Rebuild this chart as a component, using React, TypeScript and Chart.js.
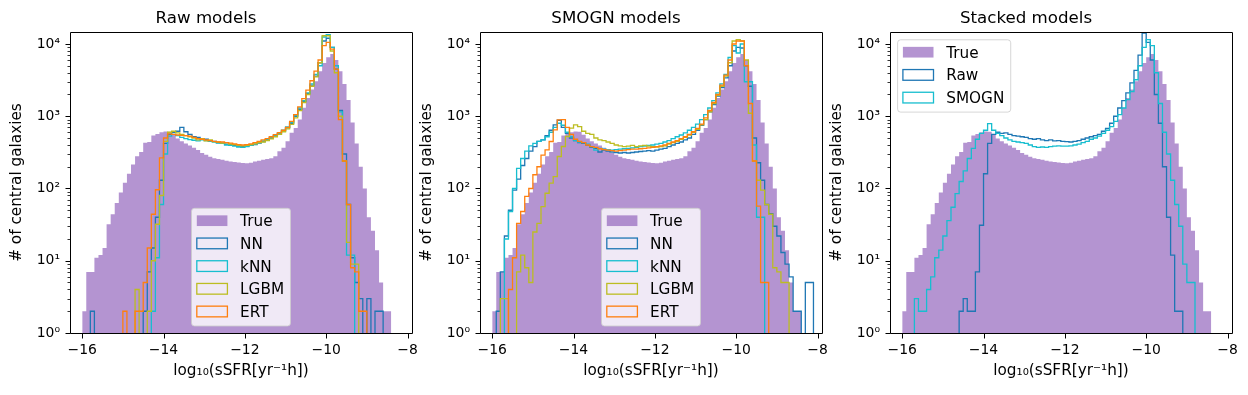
import React, { useEffect, useRef } from 'react';
import { Chart, registerables } from 'chart.js';

Chart.register(...registerables);

// ---------- data ----------
const BIN_START = -16.0;
const BIN_WIDTH = 0.1;
const N_EDGES = 81;

const X_TICKS = [-16, -14, -12, -10, -8];
const Y_TICKS = [1, 10, 100, 1000, 10000];
const Y_TICK_LABELS = ['10⁰', '10¹', '10²', '10³', '10⁴'];
const X_MIN = -16.3;
const X_MAX = -7.89;
const Y_MIN = 1;
const Y_MAX = 14650;

const TRUE_COUNTS = [3, 2, 7, 7, 11, 12, 15, 32, 44, 63, 88, 120, 160, 215, 280, 320, 428, 440, 540, 570, 600, 615, 610, 553, 490, 450, 420, 393, 365, 342, 310, 292, 275, 263, 255, 249, 242, 236, 232, 229, 226, 224, 228, 236, 242, 249, 255, 262, 280, 328, 366, 452, 589, 690, 900, 1306, 1795, 2340, 3050, 4200, 5470, 6550, 7290, 6000, 4200, 2800, 1680, 820, 420, 200, 100, 40, 26, 14, 5, 2];

const RAW_NN = [0, 0, 0, 2, 0, 0, 0, 0, 0, 0, 0, 0, 0, 0, 0, 0, 2, 7, 15, 40, 130, 420, 560, 600, 620, 700, 610, 560, 520, 510, 490, 480, 460, 450, 430, 420, 410, 405, 395, 385, 380, 385, 395, 405, 425, 445, 465, 495, 530, 570, 620, 690, 800, 1000, 1250, 1600, 2050, 2700, 3600, 5500, 11000, 12000, 9000, 4500, 1200, 300, 60, 11, 5, 3, 0, 3, 0, 2];
const RAW_KNN = [0, 0, 0, 0, 0, 0, 0, 0, 0, 0, 0, 0, 0, 0, 0, 0, 0, 0, 2, 11, 60, 300, 530, 560, 540, 510, 490, 475, 465, 455, 470, 460, 450, 440, 425, 420, 400, 395, 385, 375, 370, 380, 395, 410, 430, 455, 475, 505, 545, 585, 640, 710, 820, 1020, 1300, 1650, 2100, 2800, 3800, 5000, 12500, 13500, 9000, 5000, 1150, 240, 12];
const RAW_LGBM = [0, 0, 0, 0, 0, 0, 0, 0, 0, 0, 0, 0, 0, 0, 4, 0, 0, 2, 10, 32, 80, 450, 600, 620, 590, 560, 540, 520, 500, 470, 490, 455, 470, 445, 440, 425, 430, 410, 405, 395, 390, 395, 405, 415, 430, 440, 460, 485, 520, 560, 610, 670, 770, 950, 1200, 1550, 2000, 2600, 3500, 5500, 13000, 13000, 8000, 4000, 1000, 240, 18, 9];
const RAW_ERT = [0, 0, 0, 0, 0, 0, 0, 0, 0, 0, 0, 2, 0, 0, 2, 2, 5, 15, 44, 96, 265, 500, 570, 560, 550, 545, 540, 530, 510, 490, 480, 470, 460, 450, 440, 440, 430, 425, 415, 405, 400, 405, 415, 430, 450, 470, 490, 520, 555, 595, 640, 700, 850, 1050, 1350, 1750, 2300, 3100, 4200, 6000, 9500, 10500, 8500, 4500, 900, 240, 60, 8, 7, 2];

const SMOGN_NN = [0, 0, 2, 7, 22, 50, 95, 135, 208, 260, 330, 380, 450, 470, 540, 640, 760, 880, 700, 580, 500, 460, 430, 420, 400, 370, 360, 320, 340, 330, 320, 315, 310, 315, 310, 315, 320, 325, 330, 335, 330, 340, 350, 360, 380, 400, 420, 440, 470, 500, 560, 640, 750, 900, 1150, 1450, 1900, 2500, 3400, 5000, 8000, 9000, 8800, 5000, 2600, 500, 227, 130, 60, 45, 30, 22, 13, 9, 6, 2, 2, 0, 5];
const SMOGN_KNN = [0, 0, 0, 0, 20, 48, 100, 190, 260, 330, 390, 420, 450, 470, 520, 600, 700, 800, 750, 600, 520, 460, 440, 430, 410, 380, 340, 360, 350, 345, 340, 345, 350, 355, 360, 365, 370, 380, 385, 395, 400, 410, 420, 440, 460, 490, 520, 550, 590, 640, 700, 780, 900, 1050, 1300, 1650, 2100, 2800, 3800, 6500, 9500, 7500, 10000, 3000, 3000, 400, 40];
const SMOGN_LGBM = [0, 0, 0, 3, 3, 0, 0, 7, 12, 8, 5, 25, 33, 56, 86, 119, 146, 277, 381, 524, 683, 760, 720, 620, 580, 560, 500, 470, 460, 440, 420, 400, 390, 380, 385, 395, 380, 390, 395, 385, 380, 375, 380, 390, 410, 430, 450, 480, 510, 550, 600, 660, 760, 900, 1150, 1500, 1950, 2600, 3600, 5500, 11000, 11500, 11000, 6000, 1100, 240, 130, 95, 60, 44, 8, 7, 5];
const SMOGN_ERT = [0, 0, 0, 0, 0, 4, 11, 33, 48, 78, 100, 155, 200, 290, 343, 447, 646, 890, 900, 700, 560, 480, 450, 430, 400, 380, 370, 355, 345, 340, 335, 330, 335, 340, 345, 350, 350, 355, 360, 365, 370, 380, 390, 400, 420, 440, 460, 490, 520, 560, 610, 680, 780, 950, 1200, 1550, 2000, 2700, 3700, 6000, 10000, 11000, 11000, 5000, 1500, 240, 57, 5];

const STACK_RAW = [0, 0, 0, 0, 0, 0, 0, 0, 0, 0, 0, 0, 0, 0, 0, 2, 3, 2, 2, 7, 31, 160, 420, 560, 600, 580, 590, 560, 540, 530, 520, 510, 490, 480, 490, 470, 460, 470, 455, 460, 450, 445, 440, 450, 460, 480, 500, 520, 540, 560, 620, 680, 800, 1000, 1300, 1650, 2100, 2900, 4300, 7000, 14200, 10500, 6000, 2000, 800, 200, 40, 12, 2];
const STACK_SMOGN = [0, 0, 0, 0, 3, 2, 2, 4, 6, 11, 14, 22, 36, 55, 85, 125, 175, 260, 360, 480, 580, 640, 790, 640, 580, 540, 500, 470, 450, 440, 430, 420, 400, 380, 370, 375, 370, 380, 385, 390, 385, 385, 390, 400, 410, 430, 450, 480, 500, 530, 580, 640, 720, 850, 1050, 1300, 1700, 2200, 3200, 5000, 9000, 11500, 9500, 4000, 1500, 600, 300, 130, 60, 30, 9, 5];

const PANEL_TITLES = ['Raw models', 'SMOGN models', 'Stacked models'];
const LEGEND_LOCS = ['lower center', 'lower center', 'upper left'];

const C_TRUE = 'rgba(148,103,189,0.7)';
const C_NN = '#1f77b4';
const C_KNN = '#17becf';
const C_LGBM = '#bcbd22';
const C_ERT = '#ff7f0e';

const PANEL_SERIES = [
  [
    { label: 'NN', counts: RAW_NN, color: C_NN },
    { label: 'kNN', counts: RAW_KNN, color: C_KNN },
    { label: 'LGBM', counts: RAW_LGBM, color: C_LGBM },
    { label: 'ERT', counts: RAW_ERT, color: C_ERT },
  ],
  [
    { label: 'NN', counts: SMOGN_NN, color: C_NN },
    { label: 'kNN', counts: SMOGN_KNN, color: C_KNN },
    { label: 'LGBM', counts: SMOGN_LGBM, color: C_LGBM },
    { label: 'ERT', counts: SMOGN_ERT, color: C_ERT },
  ],
  [
    { label: 'Raw', counts: STACK_RAW, color: C_NN },
    { label: 'SMOGN', counts: STACK_SMOGN, color: C_KNN },
  ],
];

// ---------- layout ----------
const FONT_FAMILY = "'DejaVu Sans', sans-serif";
const CANVAS_W = 434;
const CANVAS_H = 395;
const PANEL_STEP = 410;
const AREA_RIGHT = 412;
const FLOOR = 0.1;

const EDGES = Array.from({ length: N_EDGES }, (_, i) => Math.round((BIN_START + i * BIN_WIDTH) * 100) / 100);

function stepPoints(counts: number[]) {
  const pts: { x: number; y: number }[] = [{ x: EDGES[0], y: FLOOR }];
  counts.forEach((c, i) => pts.push({ x: EDGES[i], y: c > 0 ? c : FLOOR }));
  const last = counts[counts.length - 1];
  pts.push({ x: EDGES[counts.length], y: last > 0 ? last : FLOOR });
  pts.push({ x: EDGES[counts.length], y: FLOOR });
  return pts;
}

function fillPoints(counts: number[]) {
  const pts: { x: number; y: number }[] = [];
  counts.forEach((c, i) => pts.push({ x: EDGES[i], y: c > 0 ? c : FLOOR }));
  pts.push({ x: EDGES[counts.length], y: counts[counts.length - 1] });
  return pts;
}

const LEG_FONT = 15.28;

function drawLegend(ctx: CanvasRenderingContext2D, area: any, loc: string, items: any[]) {
  ctx.save();
  ctx.font = `${LEG_FONT}px ${FONT_FAMILY}`;
  const maxW = Math.max(...items.map((it) => ctx.measureText(it.label).width));
  const w = 6.1 + 30.6 + 12.2 + maxW + 6.1;
  const n = items.length;
  const h = 12.3 + (n - 1) * 22.7 + 14.6;
  let x0: number, y0: number;
  if (loc === 'upper left') {
    x0 = area.left + 7.6;
    y0 = area.top + 7.8;
  } else {
    x0 = (area.left + area.right) / 2 - w / 2;
    y0 = area.bottom - 7.0 - h;
  }
  const r = 3;
  ctx.beginPath();
  ctx.moveTo(x0 + r, y0);
  ctx.lineTo(x0 + w - r, y0);
  ctx.arcTo(x0 + w, y0, x0 + w, y0 + r, r);
  ctx.lineTo(x0 + w, y0 + h - r);
  ctx.arcTo(x0 + w, y0 + h, x0 + w - r, y0 + h, r);
  ctx.lineTo(x0 + r, y0 + h);
  ctx.arcTo(x0, y0 + h, x0, y0 + h - r, r);
  ctx.lineTo(x0, y0 + r);
  ctx.arcTo(x0, y0, x0 + r, y0, r);
  ctx.closePath();
  ctx.fillStyle = 'rgba(255,255,255,0.8)';
  ctx.fill();
  ctx.strokeStyle = 'rgba(204,204,204,0.8)';
  ctx.lineWidth = 1;
  ctx.stroke();

  items.forEach((it, k) => {
    const cy = y0 + 12.4 + k * 22.7;
    const hx = x0 + 5.3;
    const hy = cy - 5.35;
    if (it.fill) {
      ctx.fillStyle = it.color;
      ctx.fillRect(hx, hy, 30.6, 10.7);
    } else {
      ctx.strokeStyle = it.color;
      ctx.lineWidth = 1.3;
      ctx.strokeRect(hx, hy, 30.6, 10.7);
    }
    ctx.fillStyle = '#000';
    ctx.textAlign = 'left';
    ctx.textBaseline = 'alphabetic';
    ctx.fillText(it.label, x0 + 48.6, cy + 5.4);
  });
  ctx.restore();
}

const decorPlugin = {
  id: 'decor',
  afterDatasetsDraw(chart: any, _args: any, opts: any) {
    const { ctx, chartArea, scales } = chart;
    const xs = scales.x;
    const ys = scales.y;
    const L = Math.round(chartArea.left) + 0.5;
    const R = Math.round(chartArea.right) + 0.5;
    const T = Math.round(chartArea.top) + 0.5;
    const B = Math.round(chartArea.bottom) + 0.5;
    ctx.save();
    ctx.strokeStyle = '#000';
    ctx.lineWidth = 1;
    ctx.beginPath();
    ctx.rect(L, T, R - L, B - T);
    ctx.stroke();
    ctx.beginPath();
    X_TICKS.forEach((v) => {
      const px = Math.round(xs.getPixelForValue(v)) + 0.5;
      ctx.moveTo(px, B);
      ctx.lineTo(px, B + 5);
    });
    Y_TICKS.forEach((v) => {
      const py = Math.round(ys.getPixelForValue(v)) + 0.5;
      ctx.moveTo(L - 5, py);
      ctx.lineTo(L, py);
    });
    ctx.stroke();
    ctx.beginPath();
    ctx.lineWidth = 0.8;
    Y_TICKS.forEach((d) => {
      for (let m = 2; m <= 9; m++) {
        const v = m * d;
        if (v > Y_MAX) continue;
        const py = Math.round(ys.getPixelForValue(v)) + 0.5;
        ctx.moveTo(L - 3, py);
        ctx.lineTo(L, py);
      }
    });
    ctx.stroke();
    ctx.restore();
    drawLegend(ctx, chartArea, opts.loc, opts.items);
  },
};

function buildConfig(k: number): any {
  const series = PANEL_SERIES[k];
  const datasets: any[] = [
    {
      label: 'True',
      data: fillPoints(TRUE_COUNTS),
      stepped: 'after',
      fill: 'start',
      backgroundColor: C_TRUE,
      borderColor: 'rgba(0,0,0,0)',
      borderWidth: 0,
      pointRadius: 0,
      order: 20,
    },
    ...series.map((s, i) => ({
      label: s.label,
      data: stepPoints(s.counts),
      stepped: 'after',
      fill: false,
      borderColor: s.color,
      borderWidth: 1.3,
      pointRadius: 0,
      order: 10 - i,
    })),
  ];
  const legendItems = [
    { label: 'True', color: C_TRUE, fill: true },
    ...series.map((s) => ({ label: s.label, color: s.color, fill: false })),
  ];
  return {
    type: 'line',
    data: { datasets },
    options: {
      animation: false,
      responsive: false,
      events: [],
      layout: { padding: { left: 0, right: CANVAS_W - AREA_RIGHT, top: 0, bottom: 0 } },
      plugins: {
        legend: { display: false },
        tooltip: { enabled: false },
        title: {
          display: true,
          text: PANEL_TITLES[k],
          color: '#000',
          font: { family: FONT_FAMILY, size: 16.67, weight: 'normal' },
          padding: { top: 8.7, bottom: 3.3 },
        },
        decor: { loc: LEGEND_LOCS[k], items: legendItems },
      },
      scales: {
        x: {
          type: 'linear',
          min: X_MIN,
          max: X_MAX,
          grid: { display: false, drawTicks: false },
          border: { display: false },
          ticks: {
            autoSkip: false,
            maxRotation: 0,
            padding: 9,
            color: '#000',
            font: { family: FONT_FAMILY, size: 13.9 },
            callback: (v: number) => (v < 0 ? '\u2212' + Math.abs(v) : String(v)),
          },
          afterBuildTicks: (ax: any) => {
            ax.ticks = X_TICKS.map((v) => ({ value: v }));
          },
          afterFit: (ax: any) => {
            ax.height = 62;
          },
          title: {
            display: true,
            text: 'log₁₀(sSFR[yr⁻¹h])',
            color: '#000',
            font: { family: FONT_FAMILY, size: 15.28 },
            padding: { top: 0, bottom: 14.4 },
          },
        },
        y: {
          type: 'logarithmic',
          min: Y_MIN,
          max: Y_MAX,
          grid: { display: false, drawTicks: false },
          border: { display: false },
          ticks: {
            autoSkip: false,
            padding: 10,
            color: '#000',
            font: { family: FONT_FAMILY, size: 13.9 },
            callback: (v: number) => {
              const idx = Y_TICKS.indexOf(v);
              return idx >= 0 ? Y_TICK_LABELS[idx] : '';
            },
          },
          afterBuildTicks: (ax: any) => {
            ax.ticks = Y_TICKS.map((v) => ({ value: v }));
          },
          afterFit: (ax: any) => {
            ax.width = 70;
          },
          title: {
            display: true,
            text: '# of central galaxies',
            color: '#000',
            font: { family: FONT_FAMILY, size: 15.28 },
            padding: { top: 8, bottom: 0 },
          },
        },
      },
    },
    plugins: [decorPlugin],
  };
}

function Panel({ index }: { index: number }) {
  const ref = useRef<HTMLCanvasElement>(null);
  useEffect(() => {
    if (!ref.current) return;
    const chart = new Chart(ref.current, buildConfig(index));
    return () => chart.destroy();
  }, [index]);
  return (
    <canvas
      ref={ref}
      width={CANVAS_W}
      height={CANVAS_H}
      style={{ position: 'absolute', left: index * PANEL_STEP, top: 0, width: CANVAS_W, height: CANVAS_H }}
    />
  );
}

export default function App() {
  return (
    <div
      style={{
        position: 'fixed',
        left: 0,
        top: 0,
        width: 1248,
        height: 395,
        background: '#fff',
        overflow: 'hidden',
      }}
    >
      {PANEL_TITLES.map((_, k) => (
        <Panel key={k} index={k} />
      ))}
    </div>
  );
}
